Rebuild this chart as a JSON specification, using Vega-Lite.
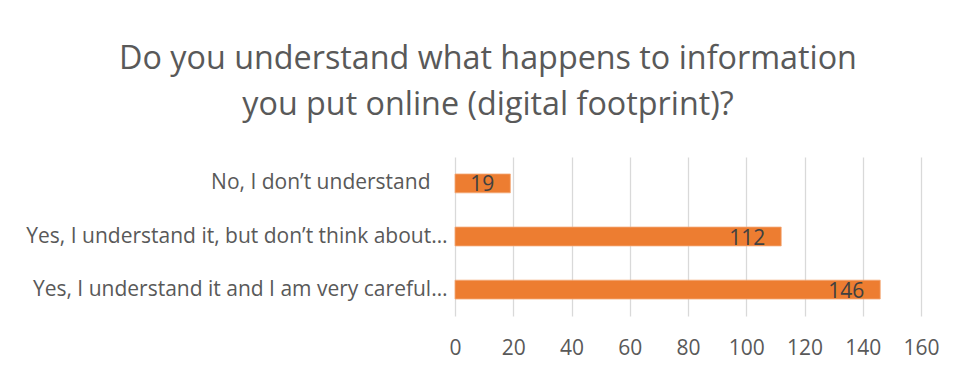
{
  "$schema": "https://vega.github.io/schema/vega-lite/v6.json",
  "autosize": {"type": "none"},
  "width": 466,
  "height": 159,
  "padding": {"left": 455, "top": 157, "right": 35, "bottom": 56},
  "background": "white",
  "title": {
    "text": ["Do you understand what happens to information", "you put online (digital footprint)?"],
    "font": "Open Sans",
    "fontSize": 32.3,
    "fontWeight": "normal",
    "color": "#595959",
    "lineHeight": 46,
    "anchor": "middle",
    "dx": -200,
    "offset": 36
  },
  "data": {
    "values": [
      {"answer": "No, I don’t understand", "count": 19},
      {"answer": "Yes, I understand it, but don’t think about…", "count": 112},
      {"answer": "Yes, I understand it and I am very careful…", "count": 146}
    ]
  },
  "config": {
    "view": {"stroke": null},
    "font": "Open Sans"
  },
  "encoding": {
    "y": {
      "field": "answer",
      "type": "nominal",
      "sort": null,
      "scale": {"paddingInner": 0.645, "paddingOuter": 0.32},
      "axis": {
        "title": null,
        "domain": false,
        "ticks": false,
        "labelFont": "Open Sans",
        "labelFontSize": 21,
        "labelColor": "#595959",
        "labelPadding": {"condition": {"test": "datum.index == 0", "value": 25}, "value": 8},
        "labelLimit": 500
      }
    },
    "x": {
      "field": "count",
      "type": "quantitative",
      "scale": {"domain": [0, 160], "nice": false},
      "axis": {
        "title": null,
        "values": [0, 20, 40, 60, 80, 100, 120, 140, 160],
        "domain": false,
        "ticks": false,
        "grid": true,
        "gridColor": "#D9D9D9",
        "gridWidth": 1.3,
        "labelFont": "Open Sans",
        "labelFontSize": 21,
        "labelColor": "#595959",
        "labelPadding": 21,
        "labelFlush": false
      }
    }
  },
  "layer": [
    {"mark": {"type": "bar", "color": "#ED7D31", "stroke": "#F4A877", "strokeWidth": 0.8}},
    {
      "mark": {"type": "text", "align": "right", "dx": -16, "dy": 2, "fontSize": 21, "color": "#404040", "font": "Open Sans"},
      "encoding": {"text": {"field": "count", "type": "quantitative"}}
    }
  ]
}
